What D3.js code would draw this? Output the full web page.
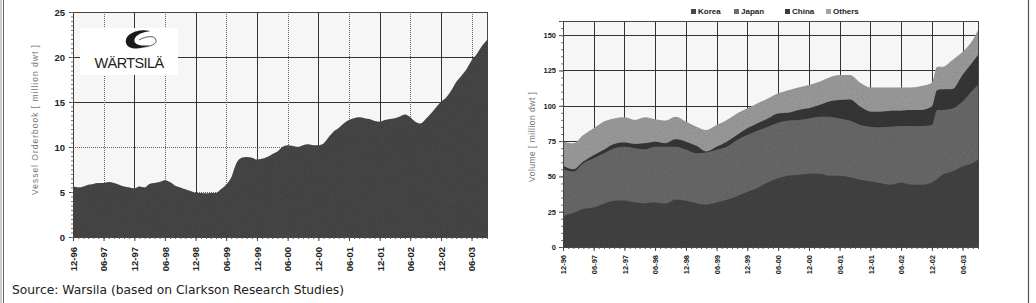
<!DOCTYPE html>
<html lang="en">
<head>
    <meta charset="UTF-8">
    <title>Orderbook charts</title>
    <script src="https://d3js.org/d3.v7.min.js"></script>
    <style>
        body { margin: 0; background: #fff; }
        svg { display: block; font-family: "Liberation Sans", Arial, sans-serif; }
        .tick-lbl { font-weight: bold; fill: #222; }
        .axis-title { fill: #777; }
        .grid-solid { stroke: #333; stroke-width: 1; }
        .grid-dot { stroke: #666; stroke-width: 1; stroke-dasharray: 1,1; }
    </style>
</head>
<body>
    <svg width="1036" height="303" id="chart"></svg>
    <script>
        // Left chart: vessel orderbook, monthly, Dec 1996 .. Sep 2003 (million dwt)
        const orderbook = [
            5.6, 5.5, 5.6, 5.8, 5.9, 6.0, 6.0, 6.1, 6.0, 5.8, 5.6, 5.5,
            5.4, 5.6, 5.5, 5.9, 6.0, 6.1, 6.3, 6.1, 5.7, 5.5, 5.3, 5.1,
            4.9, 4.9, 4.85, 4.9, 4.9, 5.3, 5.8, 6.6, 8.2, 8.8, 8.9, 8.8,
            8.6, 8.7, 8.9, 9.2, 9.5, 10.0, 10.2, 10.1, 10.0, 10.2, 10.3, 10.2,
            10.2, 10.4, 11.1, 11.7, 12.1, 12.6, 13.0, 13.2, 13.3, 13.2, 13.1, 12.9,
            12.8, 13.0, 13.1, 13.2, 13.4, 13.6, 13.3, 12.8, 12.6, 13.1, 13.7, 14.4,
            15.0, 15.5, 16.3, 17.2, 17.9, 18.6, 19.6, 20.3, 21.2, 21.9
        ];

        // Right chart: cumulative tops of each band, every 2 months from Dec 1996, last point Sep 2003
        const rightMonths = [
            "1996-12", "1997-02", "1997-04", "1997-06", "1997-08", "1997-10",
            "1997-12", "1998-02", "1998-04", "1998-06", "1998-08", "1998-10",
            "1998-12", "1999-02", "1999-04", "1999-06", "1999-08", "1999-10",
            "1999-12", "2000-02", "2000-04", "2000-06", "2000-08", "2000-10",
            "2000-12", "2001-02", "2001-04", "2001-06", "2001-08", "2001-10",
            "2001-12", "2002-02", "2002-04", "2002-06", "2002-08", "2002-10",
            "2002-12", "2003-01", "2003-02", "2003-04", "2003-06", "2003-08", "2003-09"
        ];
        const koreaTop = [
            22, 24, 27, 28, 30.6, 32.7, 33, 31.5, 31, 31.5, 30.6, 33.4,
            32.7, 31, 30, 31.5, 33.4, 36, 39, 41.7, 45.7, 48.7, 50.4, 51,
            51.8, 51.8, 50.4, 50.4, 49.4, 47.6, 46.4, 45.2, 44, 45.7, 44, 44,
            45.7, 48, 51, 53.4, 57, 59.3, 61.7
        ];
        const japanTop = [
            55, 53.5, 59.3, 62.9, 66.4, 70, 71, 70, 69.2, 71, 71, 71,
            69, 66.4, 66.9, 68.8, 71, 75.8, 79.3, 82.4, 85.2, 88, 89.5, 90,
            91, 92.3, 92.3, 91, 89.5, 86.4, 85.2, 84.8, 85.2, 85.7, 85.7, 85.7,
            86.4, 97, 97, 98, 103, 111, 114.7
        ];
        const chinaTop = [
            57.5, 55, 60.5, 65, 68.8, 73, 74, 73, 73.5, 74.6, 73.5, 76.3,
            74.6, 71.6, 67.6, 71, 74.6, 79.3, 84, 87.6, 91, 94.6, 95, 97,
            98.2, 100.5, 103, 104, 104.5, 99.4, 95.8, 95.8, 96.5, 96.5, 97, 97,
            99.4, 111, 111.6, 111.6, 121.7, 131, 135.9
        ];
        const othersTop = [
            74.6, 73.5, 79.3, 84, 88.8, 91, 91.8, 90, 91.8, 90.4, 89.5, 92.3,
            88.8, 85.2, 82.9, 86.4, 90, 94.6, 98.2, 101.7, 105.2, 108.8, 111, 113,
            114.7, 117, 120, 121.7, 121.7, 116.3, 113, 113, 113, 113, 113, 114,
            116.3, 127.6, 127.6, 132.3, 138, 146.5, 153.5
        ];

        const seriesNames = ["Korea", "Japan", "China", "Others"];
        const seriesColors = ["#474747", "#6e6e6e", "#3a3a3a", "#a3a3a3"];
        const leftTicksY = [0, 5, 10, 15, 20, 25];
        const rightTicksY = [0, 25, 50, 75, 100, 125, 150];

        const parseMonth = d3.timeParse("%Y-%m");
        const fmt = d3.timeFormat("%m-%y");
        const start = new Date(1996, 11, 1);
        const end = new Date(2003, 8, 1);
        const leftDates = d3.timeMonth.range(start, new Date(2003, 9, 1));
        const labelDates = d3.timeMonth.range(start, end, 6);   // Dec / Jun

        const svg = d3.select("#chart");

        // grain filter for the scanned look
        const defs = svg.append("defs");
        const grain = defs.append("filter").attr("id", "grain")
            .attr("x", 0).attr("y", 0).attr("width", 1).attr("height", 1);
        grain.append("feTurbulence").attr("type", "fractalNoise")
            .attr("baseFrequency", 0.9).attr("numOctaves", 2).attr("result", "noise");
        grain.append("feColorMatrix").attr("in", "noise").attr("type", "matrix")
            .attr("values", "0 0 0 0 0  0 0 0 0 0  0 0 0 0 0  0 0 0 0.35 0").attr("result", "dark");
        grain.append("feComposite").attr("in", "dark").attr("in2", "SourceGraphic")
            .attr("operator", "in").attr("result", "dots");
        const merge = grain.append("feMerge");
        merge.append("feMergeNode").attr("in", "SourceGraphic");
        merge.append("feMergeNode").attr("in", "dots");

        // outer frame
        svg.append("line").attr("x1", 1).attr("x2", 1).attr("y1", 0).attr("y2", 303)
            .attr("stroke", "#999").attr("stroke-width", 1);
        svg.append("line").attr("x1", 3.5).attr("x2", 3.5).attr("y1", 0).attr("y2", 303)
            .attr("stroke", "#666").attr("stroke-width", 1);
        svg.append("line").attr("x1", 1028.5).attr("x2", 1028.5).attr("y1", 0).attr("y2", 303)
            .attr("stroke", "#555").attr("stroke-width", 1.2);

        // ---------- left chart ----------
        const xL = d3.scaleTime().domain([start, end]).range([73, 487]);
        const yL = d3.scaleLinear().domain([0, 25]).range([237, 12]);

        const gL = svg.append("g");
        gL.append("rect").attr("x", xL.range()[0]).attr("y", yL(25))
            .attr("width", xL.range()[1] - xL.range()[0]).attr("height", yL(0) - yL(25))
            .attr("fill", "#f6f6f6");

        leftTicksY.slice(1).forEach(v => {
            gL.append("line")
                .attr("class", v === 10 || v === 5 ? "grid-dot" : "grid-solid")
                .attr("x1", xL.range()[0]).attr("x2", xL.range()[1])
                .attr("y1", Math.round(yL(v)) + 0.5).attr("y2", Math.round(yL(v)) + 0.5);
        });
        labelDates.slice(1).forEach(d => {
            gL.append("line")
                .attr("class", d.getMonth() === 5 ? "grid-dot" : "grid-solid")
                .attr("x1", Math.round(xL(d)) + 0.5).attr("x2", Math.round(xL(d)) + 0.5)
                .attr("y1", yL(25)).attr("y2", yL(0));
        });

        const areaL = d3.area()
            .x((d, i) => xL(leftDates[i]))
            .y0(yL(0))
            .y1(d => yL(d))
            .curve(d3.curveMonotoneX);
        gL.append("path").datum(orderbook)
            .attr("d", areaL)
            .attr("fill", "#4b4b4b")
            .attr("filter", "url(#grain)");

        // frame of plot
        gL.append("rect").attr("x", xL.range()[0] + 0.5).attr("y", yL(25) + 0.5)
            .attr("width", xL.range()[1] - xL.range()[0]).attr("height", yL(0) - yL(25))
            .attr("fill", "none").attr("stroke", "#444").attr("stroke-width", 1);

        // logo box
        const logo = gL.append("g");
        logo.append("rect").attr("x", 80).attr("y", 28).attr("width", 98).attr("height", 47).attr("fill", "#fff");
        logo.append("path")
            .attr("d", "M150,31 C140,28 124,33 126,43 C128,50 140,50 150,45 C140,47 132,44 135,38 C138,33 146,32 150,31 Z")
            .attr("fill", "#1a1a1a");
        logo.append("path")
            .attr("d", "M139,40 C146,36 155,35 156,40 C157,44 150,47 143,47")
            .attr("fill", "none").attr("stroke", "#333").attr("stroke-width", 0.8);
        logo.append("text").attr("x", 129).attr("y", 68).attr("text-anchor", "middle")
            .attr("font-size", 14.5).attr("letter-spacing", -0.6).attr("fill", "#1e1e1e")
            .attr("font-family", "'Liberation Sans', Arial, sans-serif")
            .text("WÄRTSILÄ");

        // y axis
        const yAxisL = gL.append("g").attr("transform", `translate(${xL.range()[0]},0)`)
            .call(d3.axisLeft(yL).tickValues(leftTicksY).tickSize(4).tickFormat(d3.format("d")));
        yAxisL.select(".domain").attr("stroke", "#444");
        yAxisL.selectAll(".tick line").attr("stroke", "#444");
        yAxisL.selectAll("text").attr("class", "tick-lbl").attr("font-size", 9.5)
            .attr("font-family", "'Liberation Sans', Arial, sans-serif").attr("x", -8);
        gL.append("g").attr("transform", `translate(${xL.range()[0]},0)`)
            .call(d3.axisLeft(yL).ticks(50).tickSize(2).tickFormat(""))
            .call(g => g.select(".domain").remove())
            .selectAll("line").attr("stroke", "#777");

        // x axis
        gL.append("g").attr("transform", `translate(0,${yL(0)})`)
            .call(d3.axisBottom(xL).ticks(d3.timeMonth.every(1)).tickSize(2).tickFormat(""))
            .call(g => g.select(".domain").attr("stroke", "#444"))
            .selectAll("line").attr("stroke", "#555");
        const xAxisL = gL.append("g").attr("transform", `translate(0,${yL(0)})`)
            .call(d3.axisBottom(xL).tickValues(labelDates).tickSize(4).tickFormat(fmt));
        xAxisL.select(".domain").remove();
        xAxisL.selectAll(".tick line").attr("stroke", "#444");
        xAxisL.selectAll("text").attr("class", "tick-lbl").attr("font-size", 9.5)
            .attr("font-family", "'Liberation Sans', Arial, sans-serif")
            .attr("transform", "rotate(-90)").attr("text-anchor", "end")
            .attr("x", -10).attr("y", 0).attr("dy", "0.35em");

        gL.append("text").attr("class", "axis-title")
            .attr("transform", "translate(38,120) rotate(-90)")
            .attr("text-anchor", "middle").attr("font-size", 8.5)
            .attr("textLength", 150).attr("lengthAdjust", "spacing")
            .text("Vessel Orderbook [ million dwt ]");

        svg.append("text").attr("x", 12).attr("y", 294)
            .attr("font-family", "'DejaVu Sans', Verdana, sans-serif")
            .attr("font-size", 12.3).attr("fill", "#222")
            .text("Source: Warsila (based on Clarkson Research Studies)");

        // ---------- right chart ----------
        const xR = d3.scaleTime().domain([start, end]).range([563, 978]);
        const yR = d3.scaleLinear().domain([0, 160]).range([247, 21]);
        const gR = svg.append("g");

        gR.append("rect").attr("x", xR.range()[0]).attr("y", yR(160))
            .attr("width", xR.range()[1] - xR.range()[0]).attr("height", yR(0) - yR(160))
            .attr("fill", "#f6f6f6");

        rightTicksY.slice(1).forEach(v => {
            gR.append("line").attr("class", "grid-solid")
                .attr("x1", xR.range()[0]).attr("x2", xR.range()[1])
                .attr("y1", Math.round(yR(v)) + 0.5).attr("y2", Math.round(yR(v)) + 0.5);
        });
        labelDates.slice(1).forEach(d => {
            gR.append("line").attr("class", "grid-solid")
                .attr("x1", Math.round(xR(d)) + 0.5).attr("x2", Math.round(xR(d)) + 0.5)
                .attr("y1", yR(160)).attr("y2", yR(0));
        });

        const tops = [koreaTop, japanTop, chinaTop, othersTop];
        const rDates = rightMonths.map(parseMonth);
        // draw from top band down so lower bands sit over upper ones
        for (let s = tops.length - 1; s >= 0; s--) {
            const areaR = d3.area()
                .x((d, i) => xR(rDates[i]))
                .y0(yR(0))
                .y1(d => yR(d))
                .curve(d3.curveMonotoneX);
            gR.append("path").datum(tops[s])
                .attr("d", areaR)
                .attr("fill", seriesColors[s])
                .attr("filter", "url(#grain)");
        }

        gR.append("rect").attr("x", xR.range()[0] + 0.5).attr("y", yR(160) + 0.5)
            .attr("width", xR.range()[1] - xR.range()[0]).attr("height", yR(0) - yR(160))
            .attr("fill", "none").attr("stroke", "#444").attr("stroke-width", 1);

        const yAxisR = gR.append("g").attr("transform", `translate(${xR.range()[0]},0)`)
            .call(d3.axisLeft(yR).tickValues(rightTicksY).tickSize(4));
        yAxisR.select(".domain").attr("stroke", "#444");
        yAxisR.selectAll(".tick line").attr("stroke", "#444");
        yAxisR.selectAll("text").attr("class", "tick-lbl").attr("font-size", 7.5)
            .attr("font-family", "'Liberation Sans', Arial, sans-serif").attr("x", -7);
        gR.append("g").attr("transform", `translate(${xR.range()[0]},0)`)
            .call(d3.axisLeft(yR).ticks(32).tickSize(2).tickFormat(""))
            .call(g => g.select(".domain").remove())
            .selectAll("line").attr("stroke", "#777");

        gR.append("g").attr("transform", `translate(0,${yR(0)})`)
            .call(d3.axisBottom(xR).ticks(d3.timeMonth.every(1)).tickSize(2).tickFormat(""))
            .call(g => g.select(".domain").attr("stroke", "#444"))
            .selectAll("line").attr("stroke", "#555");
        const xAxisR = gR.append("g").attr("transform", `translate(0,${yR(0)})`)
            .call(d3.axisBottom(xR).tickValues(labelDates).tickSize(4).tickFormat(fmt));
        xAxisR.select(".domain").remove();
        xAxisR.selectAll(".tick line").attr("stroke", "#444");
        xAxisR.selectAll("text").attr("class", "tick-lbl").attr("font-size", 7.5)
            .attr("font-family", "'Liberation Sans', Arial, sans-serif")
            .attr("transform", "rotate(-90)").attr("text-anchor", "end")
            .attr("x", -8).attr("y", 0).attr("dy", "0.35em");

        gR.append("text").attr("class", "axis-title")
            .attr("transform", "translate(535,137) rotate(-90)")
            .attr("text-anchor", "middle").attr("font-size", 8.5)
            .attr("textLength", 90).attr("lengthAdjust", "spacing")
            .text("Volume [ million dwt ]");

        // legend
        const legend = gR.append("g").attr("transform", "translate(691,13)");
        const legendX = [0, 43, 94, 135];
        seriesNames.forEach((name, i) => {
            const item = legend.append("g").attr("transform", `translate(${legendX[i]},0)`);
            item.append("rect").attr("x", 0).attr("y", -4).attr("width", 5).attr("height", 5)
                .attr("fill", seriesColors[i]);
            item.append("text").attr("x", 7).attr("y", 1).attr("class", "tick-lbl")
                .attr("font-size", 8).text(name);
        });
    </script>
</body>
</html>
